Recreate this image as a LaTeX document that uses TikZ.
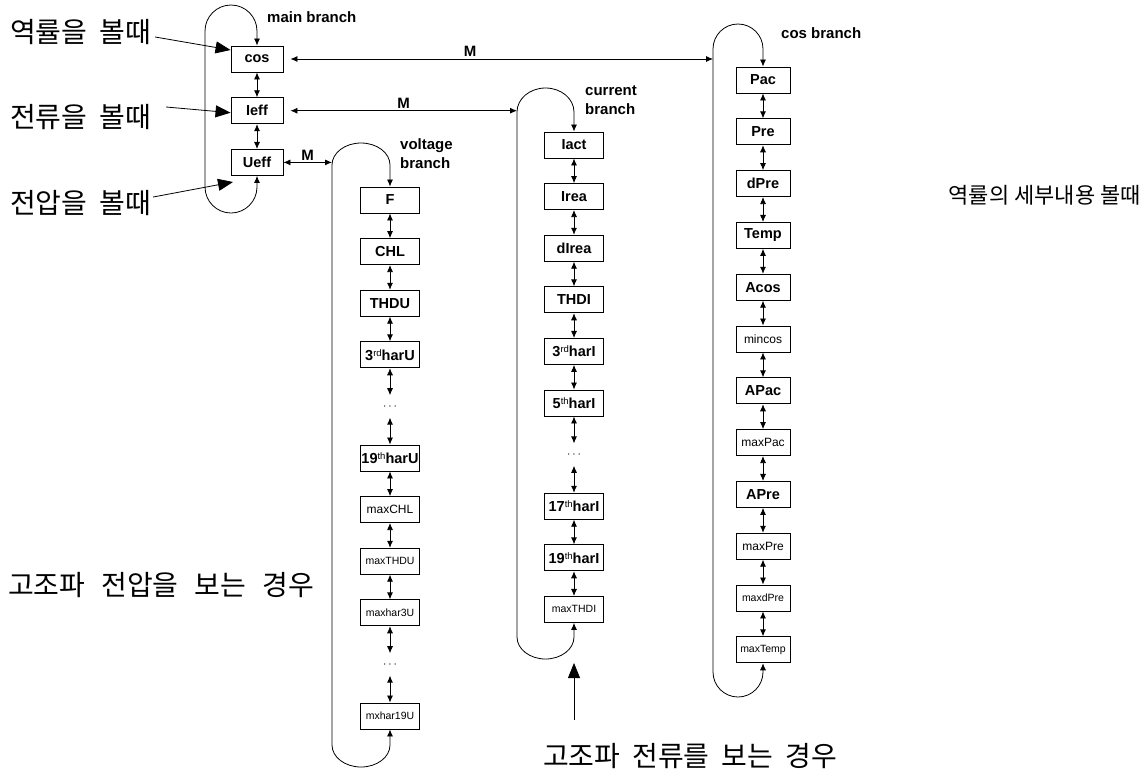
\documentclass[tikz,border=0pt]{standalone}
\usepackage{fontspec}
\setmainfont{Liberation Sans}
\newfontfamily\kor{Noto Sans CJK KR}
\usetikzlibrary{arrows.meta}
\newcommand\sups[1]{\raisebox{4pt}{\mdseries\fontsize{9.5}{9.5}\selectfont #1}}
\tikzset{
  box/.style={draw, line width=0.9pt, minimum height=26pt, inner sep=0pt, font=\bfseries\fontsize{14.5}{16}\selectfont},
  mbox/.style={box, font=\fontsize{12}{13}\selectfont},
  sbox/.style={box, font=\fontsize{10.5}{11}\selectfont},
  dotsnode/.style={minimum height=22pt, inner sep=0pt, font=\fontsize{12}{12}\selectfont},
  link/.style={line width=0.8pt, {Latex[length=7pt,width=6pt]}-{Latex[length=7pt,width=6pt]}},
  bigarrow/.style={line width=0.8pt, -{Triangle[length=15pt,width=12pt]}},
  brlabel/.style={font=\bfseries\fontsize{15}{19}\selectfont, align=left, anchor=west, inner sep=0pt},
  mlabel/.style={font=\bfseries\fontsize{15}{16}\selectfont, inner sep=2pt},
  klabel/.style={font=\kor\fontsize{28}{30}\selectfont, anchor=west, inner sep=0pt},
}
\begin{document}
\begin{tikzpicture}[x=1pt, y=-1pt]
\useasboundingbox (0,0) rectangle (1146,772);

% main branch
\node[box, minimum width=52pt] (cos) at (257,59) {cos};
\node[box, minimum width=52pt] (Ieff) at (257,110.7) {Ieff};
\node[box, minimum width=52pt] (Ueff) at (257,162.4) {Ueff};
\draw[link] (cos) -- (Ieff);
\draw[link] (Ieff) -- (Ueff);
\draw[link] (cos.north) -- (257,31) arc[start angle=0, end angle=180, radius=26pt]
  -- (205,187) arc[start angle=180, end angle=360, radius=26pt] -- (Ueff.south);
\node[brlabel] (mainlbl) at (267,17) {main branch};

% voltage branch
\foreach \txt/\sty [count=\k from 0, remember=\k as \p (initially 0)] in
  {F/box, CHL/box, THDU/box, {3\sups{rd}harU}/box, {$\cdots$}/dotsnode,
   {19\sups{th}harU}/box, maxCHL/mbox, maxTHDU/sbox, maxhar3U/sbox,
   {$\cdots$}/dotsnode, mxhar19U/sbox}{
  \node[\sty, minimum width=59pt] (v\k) at (390,{200+51.6*\k}) {\txt};
  \ifnum\k>0 \draw[link] (v\p) -- (v\k); \fi
}
\draw[link] (v0.north) -- (390,165) arc[start angle=0, end angle=180, x radius=29pt, y radius=22pt]
  -- (332,745) arc[start angle=180, end angle=360, x radius=29pt, y radius=22pt] -- (v10.south);
\node[brlabel] (vlbl) at (400,154) {voltage\\branch};

% current branch
\foreach \txt/\sty [count=\k from 0, remember=\k as \p (initially 0)] in
  {Iact/box, Irea/box, dIrea/box, THDI/box, {3\sups{rd}harI}/box,
   {5\sups{th}harI}/box, {$\cdots$}/dotsnode, {17\sups{th}harI}/box,
   {19\sups{th}harI}/box, maxTHDI/sbox}{
  \node[\sty, minimum width=59pt] (i\k) at (574,{145+51.6*\k}) {\txt};
  \ifnum\k>0 \draw[link] (i\p) -- (i\k); \fi
}
\draw[link] (i0.north) -- (574,112) arc[start angle=0, end angle=180, x radius=28.5pt, y radius=24pt]
  -- (517,637) arc[start angle=180, end angle=360, x radius=28.5pt, y radius=22pt] -- (i9.south);
\node[brlabel] (ilbl) at (585,100.5) {current\\branch};

% cos branch
\foreach \txt/\sty [count=\k from 0, remember=\k as \p (initially 0)] in
  {Pac/box, Pre/box, dPre/box, Temp/box, Acos/box, mincos/mbox, APac/box,
   maxPac/mbox, APre/box, maxPre/mbox, maxdPre/sbox, maxTemp/sbox}{
  \node[\sty, minimum width=54pt] (p\k) at (763,{80+51.8*\k}) {\txt};
  \ifnum\k>0 \draw[link] (p\p) -- (p\k); \fi
}
\draw[link] (p0.north) -- (763,49) arc[start angle=0, end angle=180, radius=25pt]
  -- (713,672) arc[start angle=180, end angle=360, radius=25pt] -- (p11.south);
\node[brlabel] (plbl) at (781,33) {cos branch};

% jumps with M
\coordinate (vin) at (332,162.4);
\coordinate (iin) at (517,110.7);
\coordinate (pin) at (713,59);
\draw[link] (Ueff.east) -- (vin) node[mlabel, midway, above] {M};
\draw[link] ([xshift=7pt]Ieff.east) -- (iin) node[mlabel, midway, above] {M};
\draw[link] ([xshift=7pt]cos.east) -- (pin) node[mlabel, pos=0.425, above] {M};

% notes
\node[klabel] (k1) at (10,32) {역률을\hspace{12pt}볼때};
\node[klabel] (k2) at (10,117) {전류을\hspace{12pt}볼때};
\node[klabel] (k3) at (10,203) {전압을\hspace{12pt}볼때};
\node[klabel] (k4) at (8,585) {고조파\hspace{16pt}전압을\hspace{16pt}보는\hspace{16pt}경우};
\node[klabel] (k5) at (543,756) {고조파\hspace{12pt}전류를\hspace{12pt}보는\hspace{12pt}경우};
\node[klabel, anchor=east, font=\kor\fontsize{22}{24}\selectfont] (k6) at (1141,195) {역률의\hspace{5pt}세부내용\hspace{5pt}볼때};
\coordinate (uin) at (233,182);
\coordinate (hbot) at (574,720);
\coordinate (htip) at (574,663);
\draw[bigarrow] ([xshift=4pt,yshift=-5pt]k1.east) -- ([yshift=9pt]cos.west);
\draw[bigarrow] ([xshift=15pt,yshift=10pt]k2.east) -- ([yshift=-2pt]Ieff.west);
\draw[bigarrow] ([xshift=2pt,yshift=6pt]k3.east) -- (uin);
\draw[bigarrow] (hbot) -- (htip);
\end{tikzpicture}
\end{document}
